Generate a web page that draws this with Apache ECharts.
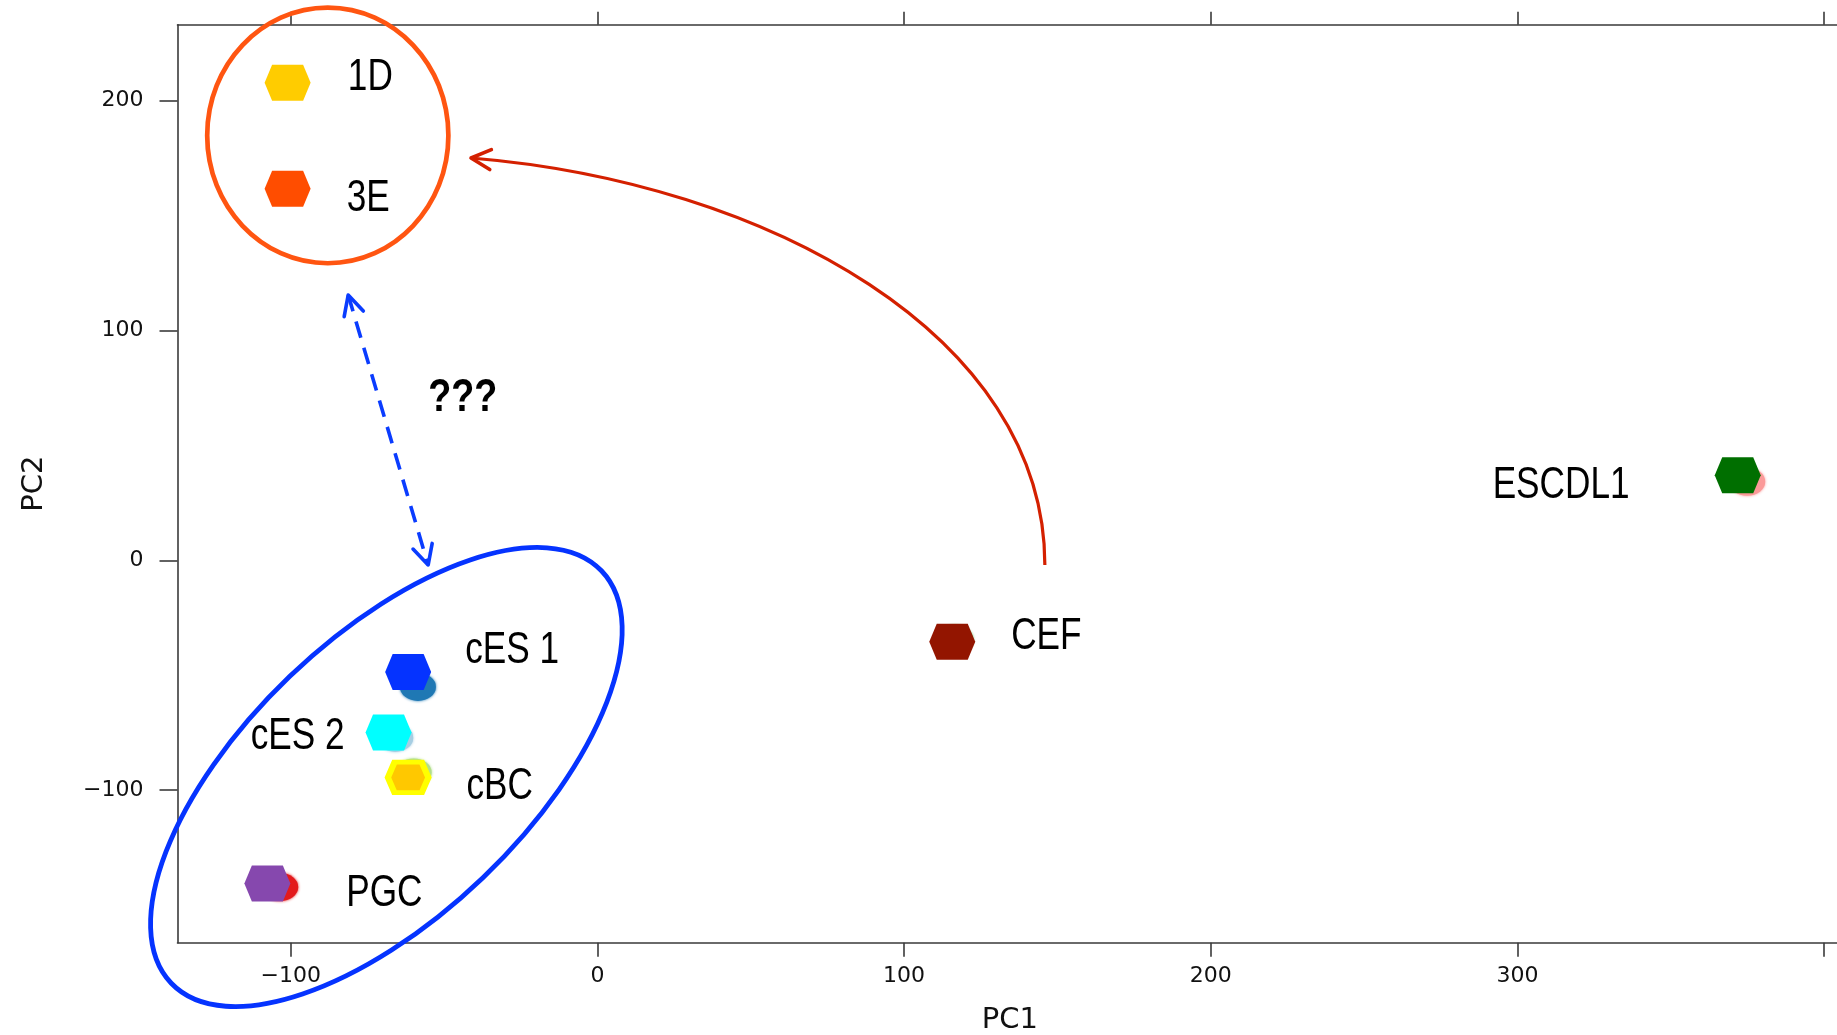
<!DOCTYPE html>
<html>
<head>
<meta charset="utf-8">
<title>PCA</title>
<script src="https://cdn.jsdelivr.net/npm/echarts@6/dist/echarts.min.js"></script>
<style>
  html, body { margin: 0; padding: 0; background: #ffffff; }
  #chart { width: 1837px; height: 1035px; }
</style>
</head>
<body>
<div id="chart"></div>
<script>
// Principal component scores, one entry per sample
const samples = ['1D', '3E', 'cES 1', 'cES 2', 'cBC', 'PGC', 'CEF', 'ESCDL1'];
const pc1 = [-100.5, -101.5, -58.5, -65.9, -59.9, -103.4, 116.6, 374.9];
const pc2 = [208.5, 161.0, -55.1, -77.3, -92.3, -142.2, -34.5, 34.2];

// Hexagon markers placed over each sample
const markerPc1 = [-101.0, -101.0, -61.7, -68.1, -61.7, -107.6, 115.7, 371.8];
const markerPc2 = [207.8, 161.7, -48.6, -74.9, -94.5, -140.6, -35.4, 37.0];

// Axis ticks and labels
const xTickValues = [-100, 0, 100, 200, 300, 400];
const xLabelValues = [-100, 0, 100, 200, 300];
const yTickValues = [-100, 0, 100, 200];

// Axis extents
const X_MIN = -136.9, X_MAX = 405.8;
const Y_MIN = -166.4, Y_MAX = 233.1;

// Colours
const pointColors = {
  '1D': '#fdbf6f', '3E': '#ff7f00', 'cES 1': '#1f78b4', 'cES 2': '#a6cee3',
  'cBC': '#b2df8a', 'PGC': '#e31a1c', 'CEF': '#33a02c', 'ESCDL1': '#fb9a99'
};
const markerColors = {
  '1D': '#ffcc00', '3E': '#ff4d00', 'cES 1': '#0533ff', 'cES 2': '#00ffff',
  'cBC': '#ffc800', 'PGC': '#8648ae', 'CEF': '#931500', 'ESCDL1': '#006f00'
};
// Name label placement relative to each hexagon (px)
const labelOffsets = {
  '1D': [82.7, -5.1], '3E': [80.7, 10.2], 'cES 1': [104, -20.7], 'cES 2': [-90.8, 4.3],
  'cBC': [91.5, 9.8], 'PGC': [117, 10.5], 'CEF': [94.1, -4.9], 'ESCDL1': [-176.6, 10.5]
};

const HEX = 'path://M7.5,0L38.5,0L46,18L38.5,36L7.5,36L0,18Z';
const LABEL_FONT = '"Liberation Sans", Arial, sans-serif';
const AXIS_FONT = '"DejaVu Sans", "Liberation Sans", Arial, sans-serif';
const AXIS_COLOR = '#3a3a3a';
const LABEL_SQUEEZE = 0.8;   // condensed look for the sample names

const minus = v => String(v).replace('-', '\u2212');

const pointData = samples.map((s, i) => ({
  name: s,
  value: [pc1[i], pc2[i]],
  itemStyle: { color: pointColors[s], opacity: 1, shadowBlur: 3, shadowColor: pointColors[s] }
}));

const markerData = samples.map((s, i) => {
  const d = {
    name: s,
    value: [markerPc1[i], markerPc2[i]],
    itemStyle: { color: markerColors[s], opacity: 1 }
  };
  if (s === 'cBC') {
    d.symbolSize = [40.5, 30.5];
    d.itemStyle.borderColor = '#ffff00';
    d.itemStyle.borderWidth = 5.5;
  }
  return d;
});

const nameData = samples.map((s, i) => ({ name: s, value: [markerPc1[i], markerPc2[i]] }));

const chart = echarts.init(document.getElementById('chart'), null, { renderer: 'canvas' });

const axisLineStyle = { color: AXIS_COLOR, width: 1.6 };

const option = {
  animation: false,
  backgroundColor: '#ffffff',
  grid: {
    left: 177.5, top: 24.7, right: -5, bottom: 92.3,
    containLabel: false, outerBoundsMode: 'none'
  },
  xAxis: [
    {
      type: 'value', position: 'bottom', min: X_MIN, max: X_MAX,
      splitLine: { show: false },
      axisLine: { show: true, onZero: false, lineStyle: axisLineStyle },
      axisTick: { show: true, length: 14, customValues: xTickValues, lineStyle: axisLineStyle },
      axisLabel: {
        customValues: xLabelValues, margin: 23, fontSize: 22, fontFamily: AXIS_FONT,
        color: '#111', formatter: minus
      },
      name: 'PC1', nameLocation: 'middle', nameGap: 63,
      nameTextStyle: { fontSize: 29, fontFamily: AXIS_FONT, color: '#111' }
    },
    {
      type: 'value', position: 'top', min: X_MIN, max: X_MAX,
      splitLine: { show: false },
      axisLine: { show: true, onZero: false, lineStyle: axisLineStyle },
      axisTick: { show: true, length: 13, customValues: xTickValues, lineStyle: axisLineStyle },
      axisLabel: { show: false }
    }
  ],
  yAxis: [
    {
      type: 'value', position: 'left', min: Y_MIN, max: Y_MAX,
      splitLine: { show: false },
      axisLine: { show: true, onZero: false, lineStyle: axisLineStyle },
      axisTick: { show: true, length: 18, customValues: yTickValues, lineStyle: axisLineStyle },
      axisLabel: {
        customValues: yTickValues, margin: 34, fontSize: 22, fontFamily: AXIS_FONT,
        color: '#111', formatter: minus
      },
      name: 'PC2', nameLocation: 'middle', nameGap: 129,
      nameTextStyle: { fontSize: 29, fontFamily: AXIS_FONT, color: '#111' }
    }
  ],
  series: [
    {
      name: 'samples', type: 'scatter', silent: true,
      symbol: 'circle', symbolSize: [36, 28],
      data: pointData, z: 2
    },
    {
      name: 'markers', type: 'scatter', silent: true,
      symbol: HEX, symbolSize: [46, 36],
      data: markerData, z: 3
    },
    {
      name: 'names', type: 'custom', silent: true, clip: false, z: 4,
      encode: { x: 0, y: 1 },
      data: nameData,
      renderItem: (params, api) => {
        const s = samples[params.dataIndex];
        const p = api.coord([api.value(0), api.value(1)]);
        const off = labelOffsets[s];
        return {
          type: 'text',
          x: p[0] + off[0], y: p[1] + off[1],
          scaleX: LABEL_SQUEEZE,
          style: {
            text: s, fill: '#000', fontSize: 44, fontFamily: LABEL_FONT,
            align: 'center', verticalAlign: 'middle'
          }
        };
      }
    }
  ]
};

chart.setOption(option);

// Annotations, anchored in data coordinates
const toPx = (x, y) => chart.convertToPixel({ seriesIndex: 0 }, [x, y]);

function chevron(tip, from, len, angDeg) {
  const dx = from[0] - tip[0], dy = from[1] - tip[1];
  const d = Math.hypot(dx, dy);
  const ux = dx / d, uy = dy / d;
  const a = angDeg * Math.PI / 180;
  const rot = t => [
    tip[0] + len * (ux * Math.cos(t) - uy * Math.sin(t)),
    tip[1] + len * (ux * Math.sin(t) + uy * Math.cos(t))
  ];
  return [rot(a), tip, rot(-a)];
}

const ringTop = toPx(-87.9, 184.9);
const ringLow = toPx(-68.8, -94.3);

const arcStart = toPx(145.9, -2.0);
const arcC1 = toPx(145.9, 98.0);
const arcC2 = toPx(55.5, 164.5);
const arcEnd = toPx(-41.2, 175.1);

const linkTop = toPx(-81.25, 115.45);
const linkLow = toPx(-55.17, -2.05);

const qPos = toPx(-43.9, 70.4);

const RED = '#d42000';
const BLUE = '#0a3cff';

chart.setOption({
  graphic: [
    {
      type: 'ellipse', silent: true, z: 10,
      shape: { cx: ringTop[0], cy: ringTop[1], rx: 120.6, ry: 127.8 },
      style: { fill: 'none', stroke: '#ff5511', lineWidth: 4.7 }
    },
    {
      type: 'ellipse', silent: true, z: 10,
      x: ringLow[0], y: ringLow[1], rotation: 43.8 * Math.PI / 180,
      shape: { cx: 0, cy: 0, rx: 298, ry: 139.5 },
      style: { fill: 'none', stroke: '#0533ff', lineWidth: 4.8 }
    },
    {
      type: 'bezierCurve', silent: true, z: 10,
      shape: {
        x1: arcStart[0], y1: arcStart[1],
        cpx1: arcC1[0], cpy1: arcC1[1],
        cpx2: arcC2[0], cpy2: arcC2[1],
        x2: arcEnd[0], y2: arcEnd[1]
      },
      style: { fill: 'none', stroke: RED, lineWidth: 3.2 }
    },
    {
      type: 'polyline', silent: true, z: 10,
      shape: { points: chevron(arcEnd, arcC2, 22, 27) },
      style: { fill: 'none', stroke: RED, lineWidth: 3.6, lineCap: 'round', lineJoin: 'round' }
    },
    {
      type: 'line', silent: true, z: 10,
      shape: { x1: linkTop[0], y1: linkTop[1], x2: linkLow[0], y2: linkLow[1] },
      style: { stroke: BLUE, lineWidth: 3.6, lineDash: [17, 10.5] }
    },
    {
      type: 'polyline', silent: true, z: 10,
      shape: { points: chevron(linkTop, linkLow, 22, 27) },
      style: { fill: 'none', stroke: BLUE, lineWidth: 3.6, lineCap: 'round', lineJoin: 'round' }
    },
    {
      type: 'polyline', silent: true, z: 10,
      shape: { points: chevron(linkLow, linkTop, 22, 27) },
      style: { fill: 'none', stroke: BLUE, lineWidth: 3.6, lineCap: 'round', lineJoin: 'round' }
    },
    {
      type: 'text', silent: true, z: 10,
      x: qPos[0], y: qPos[1], scaleX: 0.82,
      style: {
        text: '???', fill: '#000', fontSize: 46, fontWeight: 'bold',
        fontFamily: LABEL_FONT, align: 'center', verticalAlign: 'middle'
      }
    }
  ]
});
</script>
</body>
</html>
